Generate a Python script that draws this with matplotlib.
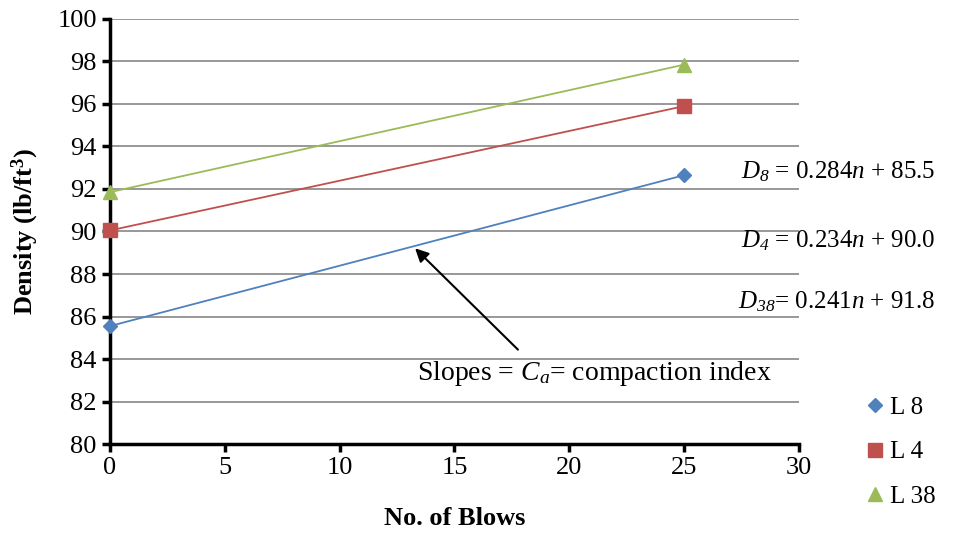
import matplotlib
matplotlib.use('Agg')
import matplotlib.pyplot as plt
from matplotlib.lines import Line2D

plt.rcParams['font.family'] = ['Liberation Serif', 'DejaVu Serif']
plt.rcParams['mathtext.fontset'] = 'custom'
plt.rcParams['mathtext.rm'] = 'Liberation Serif'
plt.rcParams['mathtext.it'] = 'Liberation Serif:italic'
plt.rcParams['mathtext.cal'] = 'Liberation Serif:italic'  # used for italic digits
plt.rcParams['mathtext.bf'] = 'Liberation Serif:bold'

# data
blows = [0, 25]
l8 = [85.55, 92.65]
l4 = [90.05, 95.9]
l38 = [91.85, 97.85]
names = ['L 8', 'L 4', 'L 38']
colors = ['#4F81BD', '#C0504D', '#9BBB59']
markers = ['D', 's', '^']
equations = [r'$D_{\mathcal{8}}$ = 0.284$n$ + 85.5',
             r'$D_{\mathcal{4}}$ = 0.234$n$ + 90.0',
             r'$D_{\mathcal{38}}$= 0.241$n$ + 91.8']

fig = plt.figure(figsize=(9.69, 5.36), dpi=100)
ax = fig.add_axes([0.1135, 0.1716, 0.711, 0.793])

handles = []
for ys, c, m, nm in zip([l8, l4, l38], colors, markers, names):
    ms = 7 if m == 'D' else 10
    ax.plot(blows, ys, color=c, lw=1.3, marker=m, ms=ms,
            markeredgecolor=c, clip_on=False, zorder=3)
    handles.append(Line2D([], [], ls='none', marker=m, ms=ms, color=c, label=nm))

ax.set_xlim(0, 30)
ax.set_ylim(80, 100)
ax.set_xticks(range(0, 31, 5))
ax.set_yticks(range(80, 101, 2))
ax.yaxis.grid(True, color='#868686', lw=1.2)
ax.set_axisbelow(True)
for s in ['top', 'right']:
    ax.spines[s].set_visible(False)
for s in ['left', 'bottom']:
    ax.spines[s].set_linewidth(2.5)
ax.tick_params(direction='out', width=2.5, length=6, labelsize=19)
ax.set_xlabel('No. of Blows', fontsize=19, fontweight='bold', labelpad=20)
ax.set_ylabel(r'Density (lb/ft$^\mathbf{3}$)', fontsize=19, fontweight='bold', labelpad=12)

# annotation arrow
ax.annotate('', xy=(13.2, 89.3), xytext=(17.85, 84.35),
            arrowprops=dict(arrowstyle='-|>', color='black', lw=1.5,
                            mutation_scale=20))
ax.text(21.1, 83.3, r'Slopes = $C_{a}$= compaction index', fontsize=20,
        ha='center', va='center')

# equations
for eq, y in zip(equations, [172, 241, 302]):
    fig.text(935 / 969, 1 - y / 536, eq, fontsize=18, ha='right', va='center')

fig.legend(handles=handles, loc='upper left', bbox_to_anchor=(845 / 969, 1 - 374 / 536),
           frameon=False, fontsize=18, handlelength=0.6, handletextpad=0.3,
           labelspacing=0.88)

fig.savefig('out.png', dpi=100)
